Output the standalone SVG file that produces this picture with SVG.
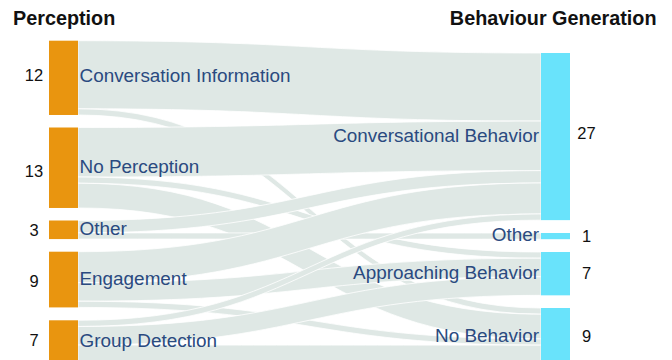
<svg xmlns="http://www.w3.org/2000/svg" width="672" height="360" viewBox="0 0 672 360">
<style>
.link{fill:#dfe8e5;stroke:#ffffff;stroke-width:0.8}
.src{fill:#e9950f}
.tgt{fill:#69e3fb}
.lbl{font-family:"Liberation Sans",Arial,sans-serif;font-size:18.9px;fill:#2a4a80}
.num{font-family:"Liberation Sans",Arial,sans-serif;font-size:16.5px;fill:#111111;text-anchor:middle}
.title{font-family:"Liberation Sans",Arial,sans-serif;font-size:19.8px;font-weight:bold;fill:#111111}
</style>
<rect width="672" height="360" fill="#ffffff"/>
<g id="connectors">
<path class="link" d="M78,40.7 C309.5,40.7 309.5,53 541,53 L541,121.09 C309.5,121.09 309.5,108.79 78,108.79 Z"/>
<path class="link" d="M78,108.79 C309.5,108.79 309.5,308 541,308 L541,314.19 C309.5,314.19 309.5,114.98 78,114.98 Z"/>
<path class="link" d="M78,127.5 C309.5,127.5 309.5,121.09 541,121.09 L541,170.61 C309.5,170.61 309.5,177.02 78,177.02 Z"/>
<path class="link" d="M78,177.02 C309.5,177.02 309.5,252 541,252 L541,258.19 C309.5,258.19 309.5,183.21 78,183.21 Z"/>
<path class="link" d="M78,183.21 C309.5,183.21 309.5,314.19 541,314.19 L541,338.95 C309.5,338.95 309.5,207.97 78,207.97 Z"/>
<path class="link" d="M78,220.5 C309.5,220.5 309.5,170.61 541,170.61 L541,182.99 C309.5,182.99 309.5,232.88 78,232.88 Z"/>
<path class="link" d="M78,232.88 C309.5,232.88 309.5,233 541,233 L541,239.19 C309.5,239.19 309.5,239.07 78,239.07 Z"/>
<path class="link" d="M78,251.7 C309.5,251.7 309.5,182.99 541,182.99 L541,213.94 C309.5,213.94 309.5,282.65 78,282.65 Z"/>
<path class="link" d="M78,282.65 C309.5,282.65 309.5,258.19 541,258.19 L541,276.76 C309.5,276.76 309.5,301.22 78,301.22 Z"/>
<path class="link" d="M78,301.22 C309.5,301.22 309.5,338.95 541,338.95 L541,345.14 C309.5,345.14 309.5,307.41 78,307.41 Z"/>
<path class="link" d="M78,320.3 C309.5,320.3 309.5,213.94 541,213.94 L541,220.13 C309.5,220.13 309.5,326.49 78,326.49 Z"/>
<path class="link" d="M78,326.49 C309.5,326.49 309.5,276.76 541,276.76 L541,295.33 C309.5,295.33 309.5,345.06 78,345.06 Z"/>
<path class="link" d="M78,345.06 C309.5,345.06 309.5,345.14 541,345.14 L541,363.71 C309.5,363.71 309.5,363.63 78,363.63 Z"/>
</g>
<g id="node-conversation-information">
<rect class="src" x="49" y="40.7" width="29" height="74.28"/>
<text class="lbl" x="79.5" y="82.3">Conversation Information</text>
</g>
<g id="node-no-perception">
<rect class="src" x="49" y="127.5" width="29" height="80.47"/>
<text class="lbl" x="79.5" y="172.5">No Perception</text>
</g>
<g id="node-other-left">
<rect class="src" x="49" y="220.5" width="29" height="18.57"/>
<text class="lbl" x="79.5" y="234.5">Other</text>
</g>
<g id="node-engagement">
<rect class="src" x="49" y="251.7" width="29" height="55.71"/>
<text class="lbl" x="79.5" y="284.8">Engagement</text>
</g>
<g id="node-group-detection">
<rect class="src" x="49" y="320.3" width="29" height="43.33"/>
<text class="lbl" x="79.5" y="347.2">Group Detection</text>
</g>
<g id="node-conversational-behavior">
<rect class="tgt" x="541" y="53" width="29" height="167.13"/>
<text class="lbl" x="539" y="142.2" text-anchor="end">Conversational Behavior</text>
</g>
<g id="node-other-right">
<rect class="tgt" x="541" y="233" width="29" height="6.19"/>
<text class="lbl" x="539" y="241.2" text-anchor="end">Other</text>
</g>
<g id="node-approaching-behavior">
<rect class="tgt" x="541" y="252" width="29" height="43.33"/>
<text class="lbl" x="539" y="279" text-anchor="end">Approaching Behavior</text>
</g>
<g id="node-no-behavior">
<rect class="tgt" x="541" y="308" width="29" height="55.71"/>
<text class="lbl" x="539" y="341.5" text-anchor="end">No Behavior</text>
</g>
<g id="counts">
<text class="num" x="34" y="81">12</text>
<text class="num" x="34" y="176.5">13</text>
<text class="num" x="34" y="236">3</text>
<text class="num" x="34" y="286.7">9</text>
<text class="num" x="34" y="345.7">7</text>
<text class="num" x="586.5" y="139.3">27</text>
<text class="num" x="586.5" y="241.7">1</text>
<text class="num" x="586.5" y="279.3">7</text>
<text class="num" x="586.5" y="342.3">9</text>
</g>
<g id="titles">
<text class="title" x="13" y="25">Perception</text>
<text class="title" x="656.5" y="25" text-anchor="end">Behaviour Generation</text>
</g>
</svg>
